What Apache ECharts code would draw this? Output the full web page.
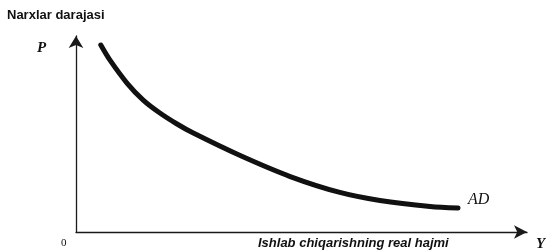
<!DOCTYPE html>
<html>
<head>
<meta charset="utf-8">
<script src="https://cdn.jsdelivr.net/npm/echarts@6/dist/echarts.min.js"></script>
<style>
  html, body { margin: 0; padding: 0; background: #fff; }
  #chart { width: 546px; height: 252px; }
</style>
</head>
<body>
<div id="chart"></div>
<script>
// DATA
var yNomi = "Narxlar darajasi";
var xNomi = "Ishlab chiqarishning real hajmi";
var egriNomi = "AD";

// AD egri chizig'i (hajm, narx)
var hajm = [5.5, 7.5, 11.3, 14.9, 18.6, 22.4, 25.9, 36.4, 47.5, 58.5, 67.4, 78.5, 84.7];
var narx = [95.4, 87.8, 76.0, 67.3, 60.7, 55.1, 50.6, 39.0, 28.3, 20.2, 16.1, 13.0, 12.2];

var nuqtalar = [];
for (var i = 0; i < hajm.length; i++) {
  nuqtalar.push([hajm[i], narx[i]]);
}

// CHART
var chart = echarts.init(document.getElementById("chart"));

chart.setOption({
  animation: false,
  grid: { left: 76, right: 19, top: 36, bottom: 20 },
  xAxis: {
    type: "value", min: 0, max: 100,
    axisLine: {
      symbol: ["none", "arrow"], symbolSize: [10, 13],
      lineStyle: { color: "#1a1a1a", width: 1.3 }
    },
    axisTick: { show: false }, axisLabel: { show: false }, splitLine: { show: false }
  },
  yAxis: {
    type: "value", min: 0, max: 100,
    axisLine: {
      symbol: ["none", "arrow"], symbolSize: [11, 12],
      lineStyle: { color: "#1a1a1a", width: 1.3 }
    },
    axisTick: { show: false }, axisLabel: { show: false }, splitLine: { show: false }
  },
  graphic: [
    { type: "text", left: 7, top: 9,
      style: { text: yNomi, font: "bold 13px 'Liberation Sans', Arial", fill: "#111" } },
    { type: "text", left: 37, top: 41,
      style: { text: "P", font: "italic bold 15px 'Liberation Serif', serif", fill: "#111" } },
    { type: "text", left: 61, top: 238,
      style: { text: "0", font: "11px 'Liberation Serif', serif", fill: "#111" } },
    { type: "text", left: 258, top: 237,
      style: { text: xNomi, font: "italic bold 13px 'Liberation Sans', Arial", fill: "#111" } },
    { type: "text", left: 536, top: 237,
      style: { text: "Y", font: "italic bold 15px 'Liberation Serif', serif", fill: "#111" } }
  ],
  series: [{
    type: "line",
    data: nuqtalar,
    smooth: 0.3,
    symbol: "none",
    lineStyle: { color: "#111", width: 5, cap: "round" },
    endLabel: {
      show: true,
      formatter: egriNomi,
      offset: [2, -8],
      fontFamily: "'Liberation Serif', serif",
      fontStyle: "italic",
      fontSize: 16,
      color: "#111"
    }
  }]
});
</script>
</body>
</html>
